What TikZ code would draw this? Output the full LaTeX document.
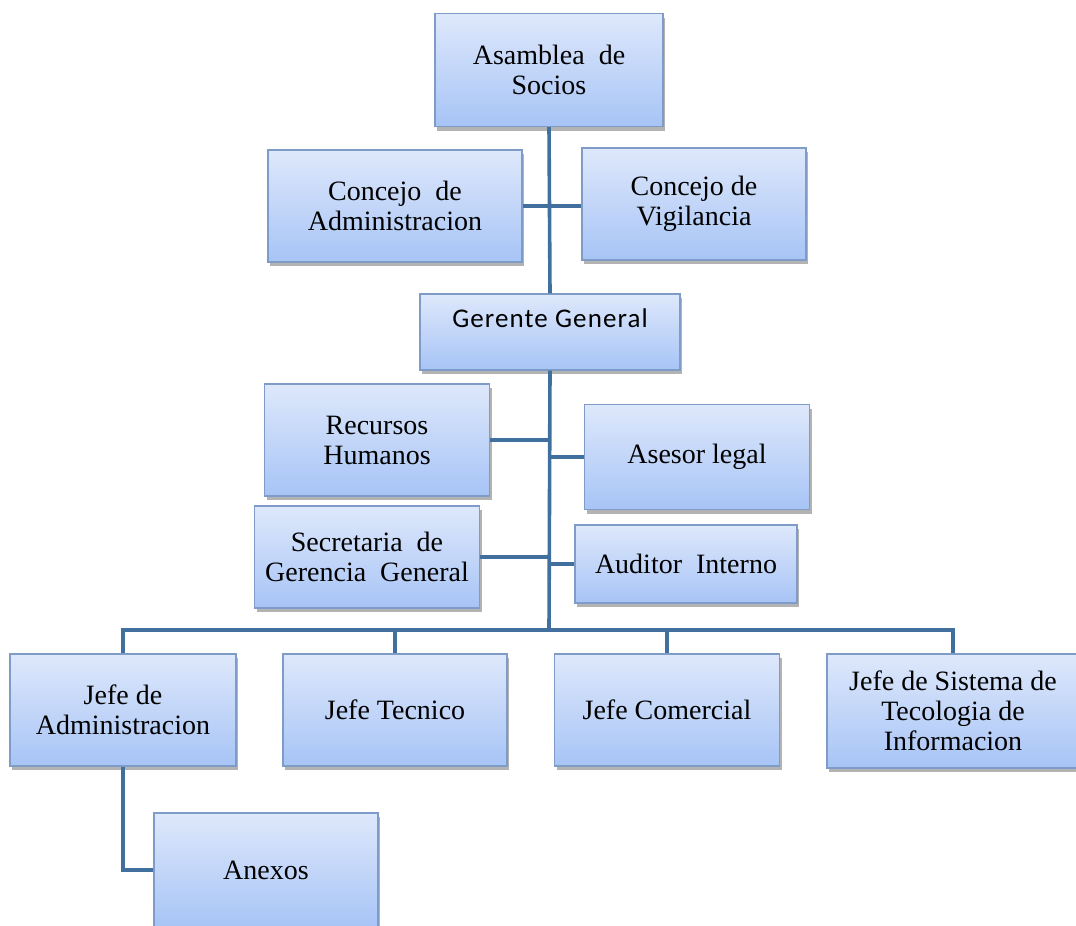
\documentclass[tikz,border=0pt]{standalone}
\usepackage{fontspec}
\setmainfont{Liberation Serif}
\newfontfamily\calibrifont{Carlito}
\usetikzlibrary{shadows}
\definecolor{boxtop}{HTML}{DEE8FB}
\definecolor{boxbottom}{HTML}{A7C4F6}
\definecolor{boxline}{HTML}{7F9CC8}
\definecolor{linkblue}{HTML}{41709F}
\begin{document}
\begin{tikzpicture}[x=1pt, y=-1pt,
  unit/.style={draw=boxline, line width=1.2pt, top color=boxtop, bottom color=boxbottom,
    align=center, inner sep=0pt, font=\fontsize{28}{30}\selectfont,
    drop shadow={opacity=0.6, shadow xshift=2pt, shadow yshift=-4pt}},
  link/.style={draw=linkblue, line width=3.6pt}]
\useasboundingbox (0,0) rectangle (1076,926);

% top of the chart
\node[unit, minimum width=228, minimum height=113] (Asamblea) at (549,70) {Asamblea\ \ de\\Socios};
\node[unit, minimum width=254, minimum height=112] (Concejo Adm) at (395,206) {Concejo\ \ de\\Administracion};
\node[unit, minimum width=224, minimum height=112] (Concejo Vig) at (694,204) {Concejo de\\Vigilancia};
\node[unit, minimum width=260, minimum height=76, font=\calibrifont\fontsize{27}{28}\selectfont] (Gerente) at (550,332) {\addfontfeature{LetterSpace=4}Gerente General\\[0pt]~};

% staff units
\node[unit, minimum width=225, minimum height=112] (Recursos) at (377,440) {Recursos\\Humanos};
\node[unit, minimum width=225, minimum height=105] (Asesor) at (697,457) {Asesor legal};
\node[unit, minimum width=225, minimum height=102] (Secretaria) at (367,557) {Secretaria\ \ de\\Gerencia\ \ General};
\node[unit, minimum width=222, minimum height=78] (Auditor) at (686,564) {Auditor\ \ Interno};

% line units
\node[unit, minimum width=226, minimum height=112] (Jefe Adm) at (123,710) {Jefe de\\Administracion};
\node[unit, minimum width=224, minimum height=112] (Jefe Tec) at (395,710) {Jefe Tecnico};
\node[unit, minimum width=225, minimum height=112] (Jefe Com) at (667,710) {Jefe Comercial};
\node[unit, minimum width=252, minimum height=114] (Jefe Sis) at (953,711) {Jefe de Sistema de\\Tecologia de\\Informacion};
\node[unit, minimum width=224, minimum height=114] (Anexos) at (266,870) {Anexos};

\coordinate (Bus) at (549,630);

\draw[link] (Asamblea.south) -- (Gerente.north);
\draw[link] (Concejo Adm.east) -- (Concejo Adm.east -| Concejo Vig.west);
\draw[link] (Gerente.south) -- (Bus);
\draw[link] (Recursos.east) -- (Recursos.east -| Bus);
\draw[link] (Asesor.west) -- (Asesor.west -| Bus);
\draw[link] (Secretaria.east) -- (Secretaria.east -| Bus);
\draw[link] (Auditor.west) -- (Auditor.west -| Bus);
\draw[link] (Jefe Adm.north) |- (Bus) -| (Jefe Sis.north);
\draw[link] (Jefe Tec.north) -- (Jefe Tec.north |- Bus);
\draw[link] (Jefe Com.north) -- (Jefe Com.north |- Bus);
\draw[link] (Jefe Adm.south) |- (Anexos.west);

\end{tikzpicture}
\end{document}
